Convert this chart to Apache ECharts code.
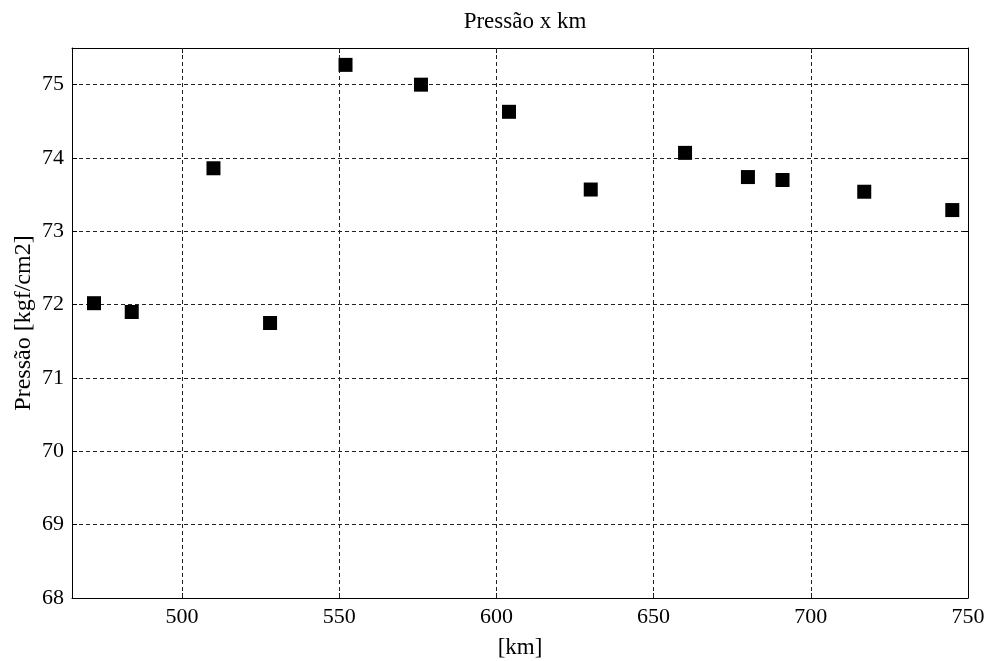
<!DOCTYPE html>
<html>
<head>
<meta charset="utf-8">
<script src="https://cdn.jsdelivr.net/npm/echarts@6/dist/echarts.min.js"></script>
<style>
html,body{margin:0;padding:0;background:#fff;}
#c{width:996px;height:661px;}
</style>
</head>
<body>
<div id="c"></div>
<script>
var kmValues = [472, 484, 510, 528, 552, 576, 604, 630, 660, 680, 691, 717, 745];
var pressureValues = [72.02, 71.90, 73.86, 71.75, 75.27, 75.00, 74.63, 73.57, 74.07, 73.74, 73.70, 73.54, 73.29];
var xTicks = [500, 550, 600, 650, 700, 750];
var yTicks = [68, 69, 70, 71, 72, 73, 74, 75];
var titleText = 'Pressão x km';
var xName = '[km]';
var yName = 'Pressão [kgf/cm2]';

var font = 'Liberation Serif';
var dash = [4, 3];
var chart = echarts.init(document.getElementById('c'), null, {renderer: 'canvas'});
var pts = kmValues.map(function (x, i) { return [x, pressureValues[i]]; });

var tickStyle = {show: true, inside: true, length: 5, lineStyle: {color: '#000', width: 1}};
chart.setOption({
  animation: false,
  backgroundColor: '#fff',
  title: {
    text: titleText, left: 520, textAlign: 'center', top: 5,
    textStyle: {fontFamily: font, fontSize: 23, fontWeight: 'normal', color: '#000'}
  },
  grid: {left: 72, right: 28, top: 48, bottom: 63, containLabel: false, outerBoundsMode: 'none'},
  xAxis: [{
    type: 'value', min: 465, max: 750, position: 'bottom',
    name: xName, nameLocation: 'middle', nameGap: 38, nameMoveOverlap: false,
    nameTextStyle: {fontFamily: font, fontSize: 23, color: '#000'},
    axisLine: {show: true, onZero: false, lineStyle: {color: '#000', width: 1}},
    axisTick: Object.assign({customValues: xTicks}, tickStyle),
    axisLabel: {customValues: xTicks, fontFamily: font, fontSize: 22, color: '#000', margin: 8},
    splitLine: {show: false}
  }, {
    type: 'value', min: 465, max: 750, position: 'top',
    axisLine: {show: true, onZero: false, lineStyle: {color: '#000', width: 1}},
    axisTick: Object.assign({customValues: xTicks}, tickStyle),
    axisLabel: {show: false},
    splitLine: {show: false}
  }],
  yAxis: [{
    type: 'value', min: 68, max: 75.5, interval: 1, position: 'left',
    name: yName, nameLocation: 'middle', nameGap: 36, nameMoveOverlap: false,
    nameTextStyle: {fontFamily: font, fontSize: 24, color: '#000'},
    axisLine: {show: true, onZero: false, lineStyle: {color: '#000', width: 1}},
    axisTick: Object.assign({customValues: yTicks}, tickStyle),
    axisLabel: {customValues: yTicks, fontFamily: font, fontSize: 22, color: '#000', margin: 8},
    splitLine: {show: true, lineStyle: {color: '#222', width: 1, type: dash}}
  }, {
    type: 'value', min: 68, max: 75.5, interval: 1, position: 'right',
    axisLine: {show: true, onZero: false, lineStyle: {color: '#000', width: 1}},
    axisTick: Object.assign({customValues: yTicks}, tickStyle),
    axisLabel: {show: false},
    splitLine: {show: false}
  }],
  series: [{
    type: 'scatter', xAxisIndex: 0, yAxisIndex: 0,
    data: pts, symbol: 'rect', symbolSize: 14,
    itemStyle: {color: '#000', opacity: 1},
    markLine: {
      silent: true, symbol: 'none', label: {show: false},
      lineStyle: {color: '#222', width: 1, type: dash},
      data: xTicks.filter(function (v) { return v < 750; }).map(function (v) { return {xAxis: v}; })
    },
    z: 5
  }]
});
</script>
</body>
</html>
